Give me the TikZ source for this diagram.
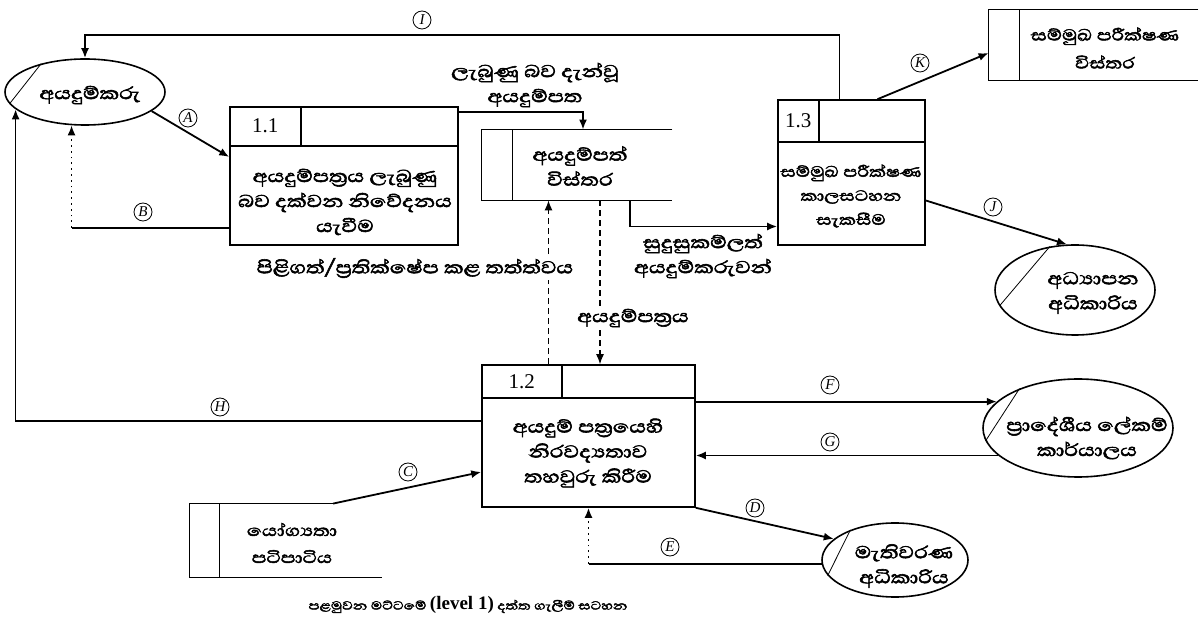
\documentclass[tikz,border=0pt]{standalone}
\usepackage{fontspec}
\setmainfont{Liberation Serif}
\newfontfamily\sinfont[Script=Sinhala, FakeStretch=1.25, FakeBold=2.5]{Abhaya Libre}
\usepackage{tikz}
\usetikzlibrary{arrows.meta}
\usetikzlibrary{shapes.geometric}
\usetikzlibrary{calc}

\tikzset{
  proc/.style={draw=black, line width=0.8pt, inner sep=0pt},
  ent/.style={draw=black, line width=0.8pt, ellipse, inner sep=0pt},
  txt/.style={align=center, inner sep=0pt, font=\sinfont\fontsize{11}{12.5}\selectfont},
  flow/.style={draw=black, line width=0.9pt, -{Latex[length=5pt,width=4pt]}},
  tag/.style={circle, draw=black, line width=0.4pt, inner sep=0pt, minimum size=9pt,
    font=\rmfamily\itshape\fontsize{7.5}{7.5}\selectfont}
}
% header row of a process box: node, drop, divider, number
\newcommand{\prochead}[4]{%
  \draw[line width=0.8pt] ([yshift=-#2]#1.north west) -- ([yshift=-#2]#1.north east);
  \draw[line width=0.8pt] ([xshift=#3]#1.north west) -- ([xshift=#3,yshift=-#2]#1.north west);
  \node[font=\rmfamily\fontsize{10.5}{10.5}\selectfont] (#1num)
    at ($(#1.north west)!0.5!([xshift=#3,yshift=-#2]#1.north west)$) {#4};
}
% open data store: node, divider
\newcommand{\dstore}[2]{%
  \draw[line width=0.8pt] (#1.north east) -- (#1.north west) -- (#1.south west) -- (#1.south east);
  \draw[line width=0.8pt] ([xshift=#2]#1.north west) -- ([xshift=#2]#1.south west);
}

\begin{document}
\begin{tikzpicture}[x=0.5pt, y=-0.5pt]
  \useasboundingbox[fill=white] (0,0) rectangle (1200,630);

  % external entities
  \node[ent, minimum width=80pt, minimum height=33pt] (ap) at (85,92) {};
  \node[txt] (aptxt) at (90,95) {අයදුම්කරු};
  \draw (ap.189) -- (ap.147);

  \node[ent, minimum width=80pt, minimum height=45pt] (ea) at (1075,290) {};
  \node[txt] (eatxt) at (1093,293) {අධ්‍යාපන\\අධිකාරිය};
  \draw (ea.192) -- (ea.120);

  \node[ent, minimum width=95pt, minimum height=49pt] (ps) at (1078,428) {};
  \node[txt] (pstxt) at (1087,438) {ප්‍රාදේශීය ලේකම්\\කාර්යාලය};
  \draw (ps.188) -- (ps.146);

  \node[ent, minimum width=73pt, minimum height=37pt] (me) at (895,560) {};
  \node[txt] (metxt) at (904,566) {මැතිවරණ\\අධිකාරිය};
  \draw (me.193) -- (me.146);

  % processes
  \node[proc, minimum width=114pt, minimum height=69pt] (p11) at (344,176) {};
  \prochead{p11}{20pt}{36pt}{1.1}
  \node[txt] (p11txt) at (345,202) {අයදුම්පත්‍රය ලැබුණු\\බව දක්වන නිවේදනය\\යැවීම};

  \node[proc, minimum width=106.5pt, minimum height=71pt] (p12) at (588.5,436) {};
  \prochead{p12}{17pt}{40.5pt}{1.2}
  \node[txt] (p12txt) at (588,453) {අයදුම් පත්‍රයෙහි\\නිරවද්‍යතාව\\තහවුරු කිරීම};

  \node[proc, minimum width=73.5pt, minimum height=72.5pt] (p13) at (851.5,172.5) {};
  \prochead{p13}{21.5pt}{21pt}{1.3}
  \node[txt, font=\sinfont\fontsize{9.5}{12}\selectfont] (p13txt) at (851,196) {සම්මුඛ පරීක්ෂණ\\කාලසටහන\\සැකසීම};

  % data stores
  \node[inner sep=0pt, minimum width=95pt, minimum height=35pt] (ds1) at (577,165) {};
  \dstore{ds1}{15.5pt}
  \node[txt] (ds1txt) at (580,166) {අයදුම්පත්\\විස්තර};

  \node[inner sep=0pt, minimum width=104.5pt, minimum height=35pt] (ds2) at (1093.5,45) {};
  \dstore{ds2}{15.5pt}
  \node[txt, font=\sinfont\fontsize{10}{14}\selectfont] (ds2txt) at (1105,48) {සම්මුඛ පරීක්ෂණ\\විස්තර};

  \node[inner sep=0pt, minimum width=96pt, minimum height=36.5pt] (ds3) at (286,540.5) {};
  \coordinate (c3) at ([xshift=23.5pt]ds3.north);
  \draw[line width=0.8pt] (c3) -- (ds3.north west) -- (ds3.south west) -- (ds3.south east);
  \draw[line width=0.8pt] ([xshift=15pt]ds3.north west) -- ([xshift=15pt]ds3.south west);
  \node[txt, font=\sinfont\fontsize{10}{13.5}\selectfont] (ds3txt) at (292,543) {යෝග්‍යතා\\පටිපාටිය};

  % flows
  \draw[flow] (ap.344) -- ([yshift=9.5pt]p11.west);
  \draw[line width=0.9pt] ([yshift=-26pt]p11.west) -- ([yshift=-26pt]p11.west -| ap.248) coordinate (bc);
  \draw[flow, dotted] (bc) -- (ap.248);
  \draw[flow] (c3) -- ([yshift=-18pt]p12.west);
  \draw[flow] (p12.south east) -- (me.161);
  \draw[line width=0.9pt] (me.183) -- (me.183 -| p12.south) coordinate (ec);
  \draw[flow, dotted] (ec) -- (p12.south);
  \draw[flow] (p12.east |- ps.162) -- (ps.162);
  \draw[flow] (ps.199) -- (ps.199 -| p12.east);
  \draw[flow] ([yshift=7.5pt]p12.west) -| (ap.194);
  \draw[flow] ([xshift=-6pt]p13.north) -- ++(0,-64) -| (ap.north);
  \draw[flow] ([yshift=-14pt]p13.east) -- (ea.100);
  \draw[flow] ([xshift=13pt]p13.north) -- ([yshift=-4pt]ds2.west);
  \draw[flow] ([yshift=-3pt]p11.north east) -| ([xshift=3pt]ds1.north);
  \draw[flow] ([xshift=26.5pt]ds1.south) |- ([yshift=-27pt]p13.west);
  \draw[flow, densely dashed, line width=0.6pt] ([xshift=-20pt]p12.north) -- ([xshift=-20pt]p12.north |- ds1.south);
  \draw[flow, densely dashed, line width=0.6pt] ([xshift=11.5pt]ds1.south) -- ([xshift=11.5pt]ds1.south |- p12.north);

  % flow labels
  \node[txt] (lbsent) at (535,85) {ලැබුණු බව දැන්වූ\\අයදුම්පත};
  \node[txt, fill=white, inner sep=1pt] (lbstat) at (415,268) {පිළිගත්/ප්‍රතික්ෂේප කළ තත්ත්වය};
  \node[txt] (lbqual) at (703,256) {සුදුසුකම්ලත්\\අයදුම්කරුවන්};
  \node[txt, fill=white, inner sep=1pt] (lbform) at (633,318) {අයදුම්පත්‍රය};
  \node[txt, font=\sinfont\fontsize{7.5}{9}\selectfont] (caption) at (468,605)
    {පළමුවන මට්ටමේ {\rmfamily\bfseries\fontsize{9.5}{9}\selectfont (level 1)} දත්ත ගැලීම් සටහන};

  \foreach \l/\x/\y in {A/188/118, B/143/212, C/408/472, D/755/508, E/670/547,
                        F/830/385, G/830/442, H/220/407, I/422/20, J/993/207, K/920/63}{
    \node[tag] (lab\l) at (\x,\y) {\l};
  }
\end{tikzpicture}
\end{document}
